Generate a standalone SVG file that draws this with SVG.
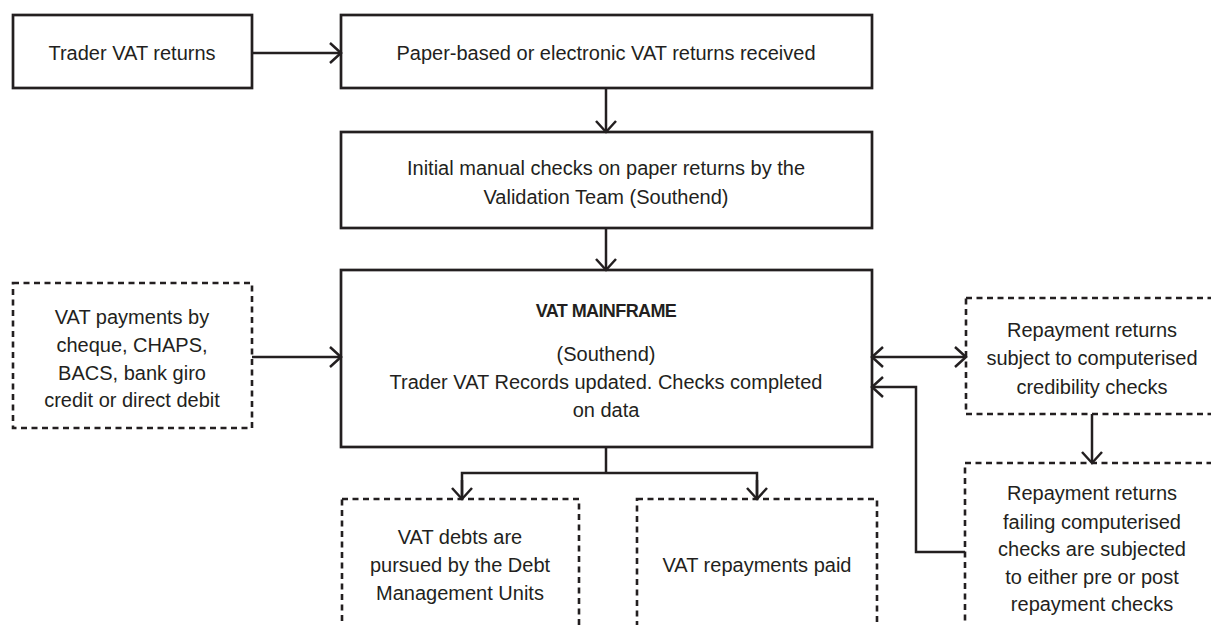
<svg xmlns="http://www.w3.org/2000/svg" width="1211" height="625" viewBox="0 0 1211 625">
<defs>
<marker id="ah" viewBox="-13 -12 15 24" refX="0" refY="0" markerWidth="15" markerHeight="24" markerUnits="userSpaceOnUse" orient="auto-start-reverse">
<path d="M-11,-10 L0,0 L-11,10" fill="none" stroke="#231f20" stroke-width="2.5"/>
</marker>
</defs>
<style>
.box{fill:#fff;stroke:#231f20;stroke-width:2.7}
.dbox{fill:#fff;stroke:#231f20;stroke-width:2.6;stroke-dasharray:6 4.5}
.t{font-family:"Liberation Sans",Arial,sans-serif;font-size:20px;fill:#231f20;text-anchor:middle}
.b{font-weight:bold;font-size:18px;letter-spacing:-0.6px}
.c{fill:none;stroke:#231f20;stroke-width:2.5}
</style>
<rect width="1211" height="625" fill="#fff"/>
<g id="trader-returns">
<rect class="box" x="13" y="15" width="239" height="73"/>
<text class="t" x="132" y="60">Trader VAT returns</text>
</g>
<g id="returns-received">
<rect class="box" x="341" y="15" width="531" height="73"/>
<text class="t" x="606" y="60">Paper-based or electronic VAT returns received</text>
</g>
<g id="manual-checks">
<rect class="box" x="341" y="132" width="531" height="96"/>
<text class="t" x="606" y="175">Initial manual checks on paper returns by the</text>
<text class="t" x="606" y="204">Validation Team (Southend)</text>
</g>
<g id="mainframe">
<rect class="box" x="341" y="270" width="531" height="177"/>
<text class="t b" x="606" y="317">VAT MAINFRAME</text>
<text class="t" x="606" y="361">(Southend)</text>
<text class="t" x="606" y="389">Trader VAT Records updated. Checks completed</text>
<text class="t" x="606" y="417">on data</text>
</g>
<g id="payments">
<rect class="dbox" x="13" y="283" width="239" height="145"/>
<text class="t" x="132" y="324">VAT payments by</text>
<text class="t" x="132" y="352">cheque, CHAPS,</text>
<text class="t" x="132" y="380">BACS, bank giro</text>
<text class="t" x="132" y="407">credit or direct debit</text>
</g>
<g id="credibility-checks">
<rect class="dbox" x="966" y="298" width="260" height="116"/>
<text class="t" x="1092" y="337">Repayment returns</text>
<text class="t" x="1092" y="365">subject to computerised</text>
<text class="t" x="1092" y="394">credibility checks</text>
</g>
<g id="failing-checks">
<rect class="dbox" x="965" y="463" width="262" height="200"/>
<text class="t" x="1092" y="500">Repayment returns</text>
<text class="t" x="1092" y="529">failing computerised</text>
<text class="t" x="1092" y="556">checks are subjected</text>
<text class="t" x="1092" y="584">to either pre or post</text>
<text class="t" x="1092" y="611">repayment checks</text>
</g>
<g id="debts">
<rect class="dbox" x="342" y="499" width="237" height="160"/>
<text class="t" x="460" y="544">VAT debts are</text>
<text class="t" x="460" y="572">pursued by the Debt</text>
<text class="t" x="460" y="600">Management Units</text>
</g>
<g id="repayments">
<rect class="dbox" x="637" y="499" width="240" height="160"/>
<text class="t" x="757" y="572">VAT repayments paid</text>
</g>
<g id="connectors">
<line class="c" x1="252" y1="53" x2="341" y2="53" marker-end="url(#ah)"/>
<line class="c" x1="606" y1="88" x2="606" y2="132" marker-end="url(#ah)"/>
<line class="c" x1="606" y1="228" x2="606" y2="270" marker-end="url(#ah)"/>
<line class="c" x1="252" y1="357" x2="341" y2="357" marker-end="url(#ah)"/>
<line class="c" x1="872" y1="357" x2="966" y2="357" marker-start="url(#ah)" marker-end="url(#ah)"/>
<polyline class="c" points="965,552 916,552 916,387 872,387" marker-end="url(#ah)"/>
<line class="c" x1="1092" y1="414" x2="1092" y2="463" marker-end="url(#ah)"/>
<line class="c" x1="606" y1="447" x2="606" y2="473"/>
<polyline class="c" points="462,499 462,473 757,473 757,499"/>
<line class="c" x1="462" y1="480" x2="462" y2="499" marker-end="url(#ah)"/>
<line class="c" x1="757" y1="480" x2="757" y2="499" marker-end="url(#ah)"/>
</g>
</svg>
